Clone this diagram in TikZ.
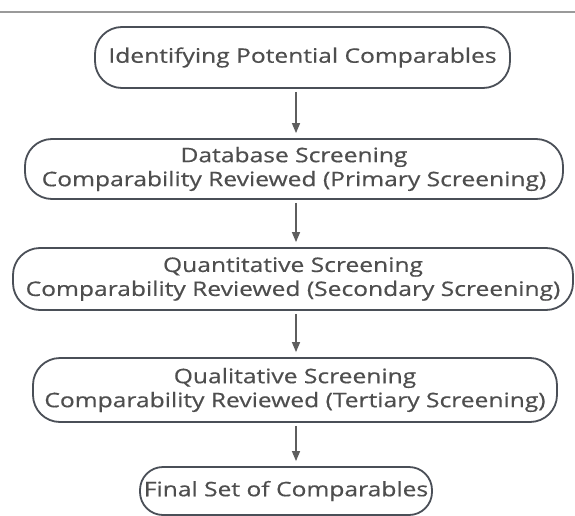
\documentclass[tikz,border=0pt]{standalone}
\usepackage{fontspec}
\setmainfont[FakeStretch=1.23,FakeBold=0.5]{Open Sans}
\usetikzlibrary{arrows.meta}
\definecolor{txt}{HTML}{4E4E4E}
\definecolor{edge}{HTML}{4A4F57}
\definecolor{arrc}{HTML}{5E5E5E}
\definecolor{rulec}{HTML}{9A9A9A}
\tikzset{
  box/.style={draw=edge, line width=1.8pt, rounded corners=27pt, fill=white,
    text=txt, align=center, inner sep=0pt, font=\fontsize{20}{24}\selectfont},
  arr/.style={draw=arrc, line width=1.4pt, -{Triangle[length=10pt,width=8pt]},
    shorten <=3pt, shorten >=5pt}
}
\begin{document}
\begin{tikzpicture}[x=1pt,y=-1pt]
\useasboundingbox (0,0) rectangle (575,516);
\fill[white] (0,0) rectangle (575,516);
\coordinate (rl) at (0,12);
\coordinate (rr) at (575,12);
\draw[rulec, line width=2pt] (rl) -- (rr);
\coordinate (ax) at (296,0);
\node[box, minimum width=415pt, minimum height=61pt] (b1) at (302.5,57.5) {Identifying Potential Comparables};
\node[box, minimum width=538pt, minimum height=60pt] (b2) at (294,169) {Database Screening\\Comparability Reviewed (Primary Screening)};
\node[box, minimum width=560pt, minimum height=62pt] (b3) at (293,279) {Quantitative Screening\\Comparability Reviewed (Secondary Screening)};
\node[box, minimum width=524pt, minimum height=64pt] (b4) at (295,390) {Qualitative Screening\\Comparability Reviewed (Tertiary Screening)};
\node[box, minimum width=292pt, minimum height=48pt, rounded corners=23pt] (b5) at (286,491) {Final Set of Comparables};
\draw[arr] (b1.south -| ax) -- (b2.north -| ax);
\draw[arr] (b2.south -| ax) -- (b3.north -| ax);
\draw[arr] (b3.south -| ax) -- (b4.north -| ax);
\draw[arr] (b4.south -| ax) -- (b5.north -| ax);
\end{tikzpicture}
\end{document}
